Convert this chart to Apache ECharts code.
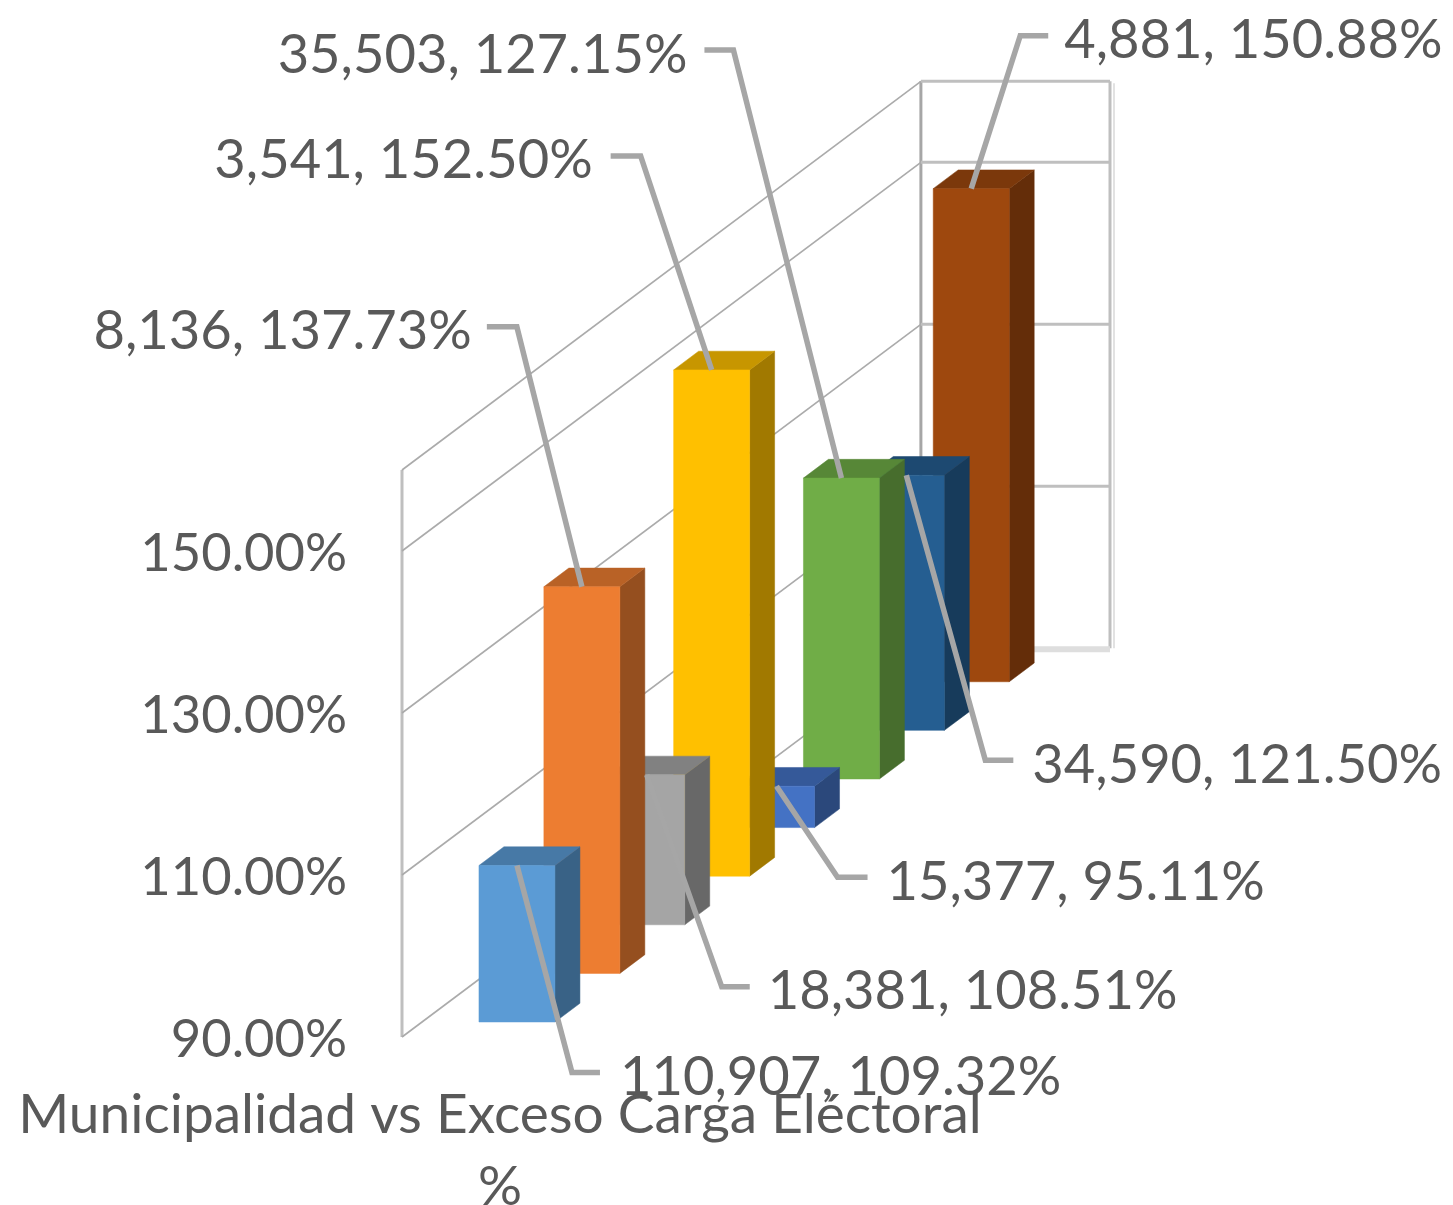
<!DOCTYPE html>
<html><head><meta charset="utf-8">
<style>html,body{margin:0;padding:0;background:#fff}#c{width:1453px;height:1205px}</style>
<script src="https://cdn.jsdelivr.net/npm/echarts@6/dist/echarts.min.js"></script>
</head><body><div id="c"></div>
<script>
const counts = [110907, 8136, 18381, 3541, 15377, 35503, 34590, 4881];
const percents = [109.32, 137.73, 108.51, 152.50, 95.11, 127.15, 121.50, 150.88];
const colors = ['#5B9BD5','#ED7D31','#A5A5A5','#FFC000','#4472C4','#70AD47','#255E91','#9E480E'];
const yTicks = [90, 110, 130, 150];
const titleLines = ['Municipalidad vs Exceso Carga Eléctoral', '%'];
// leader line layout, per label: elbow dx, elbow dy, stub dx, gap to text
const leaders = [[55,207,28,20],[-65,-260,-30,-15],[75,212,28,18],[-71,-214,-30,-18],
                 [61,91,30,19],[-108,-428,-29,-17],[79,285,28,19],[49,-153,28,16]];

const AXIS_MIN = 90, AXIS_MAX = 160;
const X_MIN = -1.186, X_BACK = 6.81, X_MAX = 9.724;
const SLOPE = 0.749, BAR_W = 1.171, DEPTH = 0.385, FRONT_RISE = 15;
const FONT = '"Lato","Open Sans",sans-serif', TEXT = '#595959';

function shade(hex, f){
  const n = parseInt(hex.slice(1),16);
  const c = s => Math.round(((n>>s)&255)*f);
  return `rgb(${c(16)},${c(8)},${c(0)})`;
}
const line = (x1,y1,x2,y2,stroke,lw,z2) => ({type:'line',z2,shape:{x1,y1,x2,y2},style:{stroke,lineWidth:lw}});
const poly = (points,fill,z2) => ({type:'polygon',z2,shape:{points},style:{fill,stroke:fill,lineWidth:.5}});

function barCorner(api, i, v){
  const p = api.coord([i, v]), q = api.coord([i+1, v]);
  const step = q[0]-p[0];
  return {x:p[0], y:p[1] - i*step*SLOPE - FRONT_RISE, step};
}
function renderWalls(params, api){
  if (params.dataIndex !== 0) return {type:'group',children:[]};
  const kids = [];
  const ofs = api.coord([X_BACK,AXIS_MIN]);
  const L = api.coord([X_MIN,AXIS_MIN]), R = api.coord([X_MAX,AXIS_MIN]);
  const rise = (ofs[0]-L[0])*SLOPE;
  const yTop = api.coord([X_MIN,AXIS_MAX])[1];
  const wallC='#BFBFBF', diagC='#ABABAB';
  kids.push(line(L[0],L[1],L[0],yTop,wallC,3));
  kids.push(line(ofs[0],L[1]-rise,ofs[0],yTop-rise,'#A6A6A6',3));
  kids.push(line(R[0]+4,L[1]-rise,R[0]+4,yTop-rise+2,'#E2E2E2',2));
  kids.push(line(R[0],L[1]-rise,R[0],yTop-rise,wallC,3));
  [...yTicks, AXIS_MAX].forEach(v=>{
    const y = api.coord([X_MIN,v])[1];
    kids.push(line(L[0],y,ofs[0],y-rise,diagC,1.6));
    if (v !== AXIS_MIN) kids.push(line(ofs[0],y-rise,R[0],y-rise,wallC,3));
  });
  kids.push(line(ofs[0],L[1]-rise+1,R[0],L[1]-rise+1,'#DEDEDE',6));
  return {type:'group',children:kids};
}
function renderBar(params, api){
  const i = api.value(0), v = api.value(1), c = colors[i];
  const a = barCorner(api,i,v), b = barCorner(api,i,AXIS_MIN);
  const w = BAR_W*a.step, dx = DEPTH*a.step, dy = dx*SLOPE;
  const z = 100-i;
  return {type:'group',children:[
    poly([[a.x+w,a.y],[a.x+w+dx,a.y-dy],[a.x+w+dx,b.y-dy],[a.x+w,b.y]],shade(c,.63),z),
    poly([[a.x,a.y],[a.x+dx,a.y-dy],[a.x+w+dx,a.y-dy],[a.x+w,a.y]],shade(c,.78),z),
    poly([[a.x,a.y],[a.x+w,a.y],[a.x+w,b.y],[a.x,b.y]],c,z)
  ]};
}
function renderLabel(params, api){
  const i = api.value(0), v = api.value(1);
  const a = barCorner(api,i,v);
  const ax = a.x + BAR_W*a.step/2, ay = a.y;
  const [ex,ey,sx,gap] = leaders[i];
  const px = ax+ex, py = ay+ey, tx = px+sx+gap;
  return {type:'group',children:[
    {type:'polyline',z2:200,shape:{points:[[ax,ay],[px,py],[px+sx,py]]},
      style:{stroke:'#A6A6A6',lineWidth:5.5,fill:null}},
    {type:'text',z2:201,x:tx,y:py+5,style:{
      text:counts[i].toLocaleString('en-US')+', '+percents[i].toFixed(2)+'%',
      font:'54.3px '+FONT,fill:TEXT,align:sx>0?'left':'right',verticalAlign:'middle'}}
  ]};
}
const barData = percents.map((p,i)=>[i,p]);
const chart = echarts.init(document.getElementById('c'),null,{renderer:'canvas'});
chart.setOption({
  animation:false,
  backgroundColor:'#fff',
  title:{text:titleLines.join('\n'),left:495,top:1074,textAlign:'center',
    textStyle:{fontFamily:FONT,fontWeight:'normal',fontSize:55,color:TEXT,lineHeight:72}},
  grid:{left:402,right:343,top:470,bottom:168,containLabel:false},
  xAxis:{type:'value',min:X_MIN,max:X_MAX,show:false,splitLine:{show:false}},
  yAxis:{type:'value',min:AXIS_MIN,max:AXIS_MAX,
    axisLine:{show:false},axisTick:{show:false},splitLine:{show:false},
    axisLabel:{customValues:yTicks,margin:55,fontFamily:FONT,fontSize:52.5,color:TEXT,
      verticalAlign:'top',lineHeight:6,formatter:v=>v.toFixed(2)+'%'}},
  series:[
    {type:'custom',coordinateSystem:'cartesian2d',z:1,renderItem:renderWalls,data:barData,silent:true},
    {type:'custom',coordinateSystem:'cartesian2d',z:2,renderItem:renderBar,data:barData,silent:true},
    {type:'custom',coordinateSystem:'cartesian2d',z:3,renderItem:renderLabel,data:barData,silent:true}
  ]
});
</script></body></html>
